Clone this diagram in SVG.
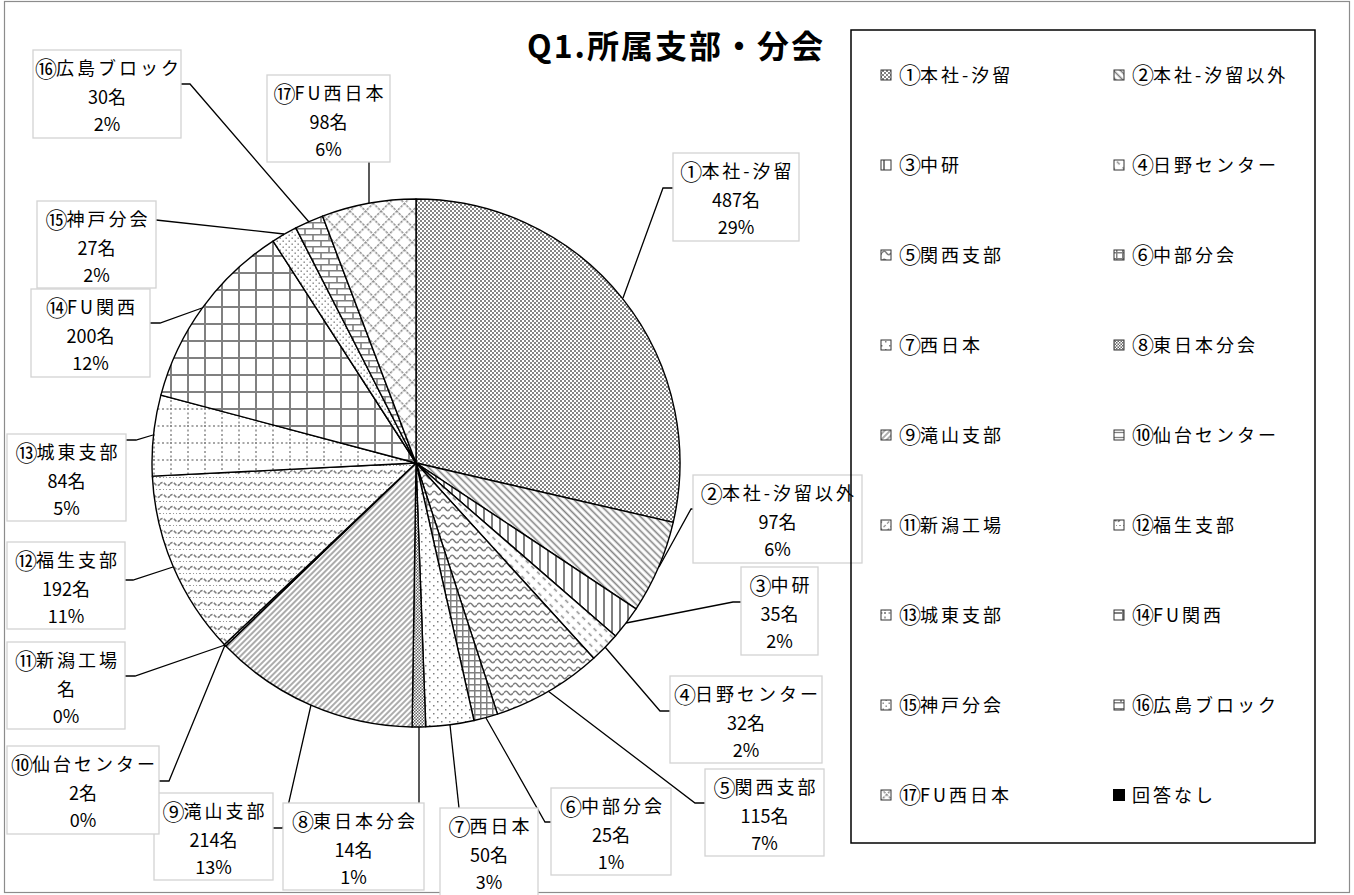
<svg xmlns="http://www.w3.org/2000/svg" width="1354" height="895" viewBox="0 0 1354 895">
<style>
text{font-family:"Noto Sans CJK JP","Noto Sans",sans-serif;fill:#000}
.lb{font-size:18px;text-anchor:middle}
.nm{letter-spacing:3px}
.cn{font-size:22px;letter-spacing:-1px}
.box{fill:#fff;stroke:#d3d3d3;stroke-width:1.3}
.sl{stroke:#000;stroke-width:1.4;stroke-linejoin:round}
.ld{fill:none;stroke:#000;stroke-width:1.3}
.lg{font-size:18px;letter-spacing:3px}
.mk{stroke:#333;stroke-width:1}
.title{font-size:32px;font-weight:bold;letter-spacing:2px}
</style>
<defs>
<pattern id="p1" width="4" height="4" patternUnits="userSpaceOnUse"><rect width="4" height="4" fill="#fff"/><rect width="2" height="2" fill="#858585"/><rect x="2" y="2" width="2" height="2" fill="#858585"/></pattern>
<pattern id="p2" width="5" height="5" patternUnits="userSpaceOnUse" patternTransform="rotate(-45)"><rect width="5" height="5" fill="#fff"/><line x1="2.5" y1="0" x2="2.5" y2="5" stroke="#808080" stroke-width="1.6"/></pattern>
<pattern id="p3" width="8" height="8" patternUnits="userSpaceOnUse"><rect width="8" height="8" fill="#fff"/><line x1="4" y1="0" x2="4" y2="8" stroke="#808080" stroke-width="2"/></pattern>
<pattern id="p4" width="7" height="8" patternUnits="userSpaceOnUse" patternTransform="rotate(-45)"><rect width="7" height="8" fill="#fff"/><line x1="3.5" y1="0" x2="3.5" y2="4" stroke="#8a8a8a" stroke-width="1.5"/></pattern>
<pattern id="p5" width="9" height="8" patternUnits="userSpaceOnUse"><rect width="9" height="8" fill="#fff"/><path d="M0 5 Q2.25 1.5 4.5 5 T9 5" fill="none" stroke="#808080" stroke-width="1.5"/></pattern>
<pattern id="p6" width="6" height="6" patternUnits="userSpaceOnUse"><rect width="6" height="6" fill="#fff"/><path d="M0 0.75H6M0.75 0V6" stroke="#808080" stroke-width="1.5"/></pattern>
<pattern id="p7" width="8" height="8" patternUnits="userSpaceOnUse"><rect width="8" height="8" fill="#fff"/><rect x="1" y="1" width="1.5" height="1.5" fill="#808080"/><rect x="5" y="5" width="1.5" height="1.5" fill="#808080"/></pattern>
<pattern id="p8" width="3" height="3" patternUnits="userSpaceOnUse"><rect width="3" height="3" fill="#fff"/><rect width="1.5" height="1.5" fill="#666"/><rect x="1.5" y="1.5" width="1.5" height="1.5" fill="#666"/></pattern>
<pattern id="p9" width="4" height="4" patternUnits="userSpaceOnUse" patternTransform="rotate(45)"><rect width="4" height="4" fill="#fff"/><line x1="2" y1="0" x2="2" y2="4" stroke="#808080" stroke-width="1.3"/></pattern>
<pattern id="p10" width="5" height="5" patternUnits="userSpaceOnUse"><rect width="5" height="5" fill="#fff"/><line x1="0" y1="2.5" x2="5" y2="2.5" stroke="#808080" stroke-width="1.3"/></pattern>
<pattern id="p11" width="5" height="5" patternUnits="userSpaceOnUse" patternTransform="rotate(45)"><rect width="5" height="5" fill="#fff"/><line x1="2.5" y1="0" x2="2.5" y2="3" stroke="#808080" stroke-width="1.2"/></pattern>
<pattern id="p12" width="10" height="12" patternUnits="userSpaceOnUse"><rect width="10" height="12" fill="#fff"/><path d="M0 4 Q2.5 1 5 4 T10 4" fill="none" stroke="#808080" stroke-width="1.6" stroke-dasharray="3 1.5"/><line x1="0" y1="9.5" x2="10" y2="9.5" stroke="#9a9a9a" stroke-width="1.2" stroke-dasharray="1 2"/></pattern>
<pattern id="p13" width="17" height="17" patternUnits="userSpaceOnUse"><rect width="17" height="17" fill="#fff"/><path d="M0 1H17M1 0V17" stroke="#8a8a8a" stroke-width="1.5" stroke-dasharray="2 2.5"/></pattern>
<pattern id="p14" width="17" height="17" patternUnits="userSpaceOnUse"><rect width="17" height="17" fill="#fff"/><path d="M0 1H17M1 0V17" stroke="#808080" stroke-width="2"/></pattern>
<pattern id="p15" width="6" height="6" patternUnits="userSpaceOnUse"><rect width="6" height="6" fill="#fff"/><rect x="0.5" y="0.5" width="1.4" height="1.4" fill="#808080"/><rect x="3.5" y="3.5" width="1.4" height="1.4" fill="#808080"/></pattern>
<pattern id="p16" width="16" height="12" patternUnits="userSpaceOnUse"><rect width="16" height="12" fill="#fff"/><path d="M0 0.75H16M0 6.75H16M1 0V6.75M9 6.75V12" stroke="#808080" stroke-width="1.6"/></pattern>
<pattern id="p17" width="11" height="11" patternUnits="userSpaceOnUse" patternTransform="rotate(45)"><rect width="11" height="11" fill="#fff"/><path d="M0 0.75H11M0.75 0V11" stroke="#8a8a8a" stroke-width="1.5" stroke-dasharray="2.5 1.2"/></pattern>
</defs>
<rect x="4.5" y="1.5" width="1345" height="891" fill="#fff" stroke="#8c8c8c" stroke-width="1.2"/>

<g id="pie">
<path class="sl" fill="url(#p1)" d="M416,463 L416,199 A264,264 0 0 1 673.22,522.42 Z"/>
<path class="sl" fill="url(#p2)" d="M416,463 L673.22,522.42 A264,264 0 0 1 636.08,608.81 Z"/>
<path class="sl" fill="url(#p3)" d="M416,463 L636.08,608.81 A264,264 0 0 1 615.47,635.94 Z"/>
<path class="sl" fill="url(#p4)" d="M416,463 L615.47,635.94 A264,264 0 0 1 593.68,658.26 Z"/>
<path class="sl" fill="url(#p5)" d="M416,463 L593.68,658.26 A264,264 0 0 1 497.49,714.11 Z"/>
<path class="sl" fill="url(#p6)" d="M416,463 L497.49,714.11 A264,264 0 0 1 474.00,720.55 Z"/>
<path class="sl" fill="url(#p7)" d="M416,463 L474.00,720.55 A264,264 0 0 1 425.74,726.82 Z"/>
<path class="sl" fill="url(#p8)" d="M416,463 L425.74,726.82 A264,264 0 0 1 412.10,726.97 Z"/>
<path class="sl" fill="url(#p9)" d="M416,463 L412.10,726.97 A264,264 0 0 1 225.77,646.05 Z"/>
<path class="sl" fill="url(#p10)" d="M416,463 L225.77,646.05 A264,264 0 0 1 224.36,644.59 Z"/>
<path class="sl" fill="url(#p12)" d="M416,463 L224.36,644.59 A264,264 0 0 1 152.33,476.15 Z"/>
<path class="sl" fill="url(#p13)" d="M416,463 L152.33,476.15 A264,264 0 0 1 160.89,395.07 Z"/>
<path class="sl" fill="url(#p14)" d="M416,463 L160.89,395.07 A264,264 0 0 1 273.05,241.05 Z"/>
<path class="sl" fill="url(#p15)" d="M416,463 L273.05,241.05 A264,264 0 0 1 295.83,227.93 Z"/>
<path class="sl" fill="url(#p16)" d="M416,463 L295.83,227.93 A264,264 0 0 1 322.56,216.09 Z"/>
<path class="sl" fill="url(#p17)" d="M416,463 L322.56,216.09 A264,264 0 0 1 416,199 Z"/>
</g>

<g id="connectors">
<polyline class="ld" points="673,188 663,188 623,298"/>
<polyline class="ld" points="693,509 691,509 659,567"/>
<polyline class="ld" points="741,602 733,602 626,623"/>
<polyline class="ld" points="670,711 660,711 605,647"/>
<polyline class="ld" points="705,803 695,803 548,691"/>
<polyline class="ld" points="551,822 545,822 486,718"/>
<polyline class="ld" points="459,808 450,725"/>
<polyline class="ld" points="419,803 419,727"/>
<polyline class="ld" points="273,828 283,828 311,705"/>
<polyline class="ld" points="159,781 169,781 225,645"/>
<polyline class="ld" points="125,676 135,676 225,645"/>
<polyline class="ld" points="125,580 133,580 173,567"/>
<polyline class="ld" points="126,440 136,440 153,435"/>
<polyline class="ld" points="150,323 160,323 202,308"/>
<polyline class="ld" points="156,220 284,234"/>
<polyline class="ld" points="181,84 190,84 309,222"/>
<polyline class="ld" points="369,162 369,203"/>
</g>

<g id="label1"><rect class="box" x="673" y="153" width="126" height="88"/><text class="lb nm" x="737.5" y="178"><tspan class="cn" dy="1.5">①</tspan><tspan dy="-1.5">本社-汐留</tspan></text><text class="lb" x="736" y="207">487名</text><text class="lb" x="736" y="234">29%</text></g>
<g id="label2"><rect class="box" x="693" y="475" width="169" height="88"/><text class="lb nm" x="779" y="500"><tspan class="cn" dy="1.5">②</tspan><tspan dy="-1.5">本社-汐留以外</tspan></text><text class="lb" x="777.5" y="529">97名</text><text class="lb" x="777.5" y="556">6%</text></g>
<g id="label3"><rect class="box" x="741" y="567" width="77" height="88"/><text class="lb nm" x="781" y="592"><tspan class="cn" dy="1.5">③</tspan><tspan dy="-1.5">中研</tspan></text><text class="lb" x="779.5" y="621">35名</text><text class="lb" x="779.5" y="648">2%</text></g>
<g id="label4"><rect class="box" x="670" y="676" width="152" height="87"/><text class="lb nm" x="747.5" y="701"><tspan class="cn" dy="1.5">④</tspan><tspan dy="-1.5">日野センター</tspan></text><text class="lb" x="746" y="730">32名</text><text class="lb" x="746" y="757">2%</text></g>
<g id="label5"><rect class="box" x="705" y="769" width="119" height="87"/><text class="lb nm" x="766" y="794"><tspan class="cn" dy="1.5">⑤</tspan><tspan dy="-1.5">関西支部</tspan></text><text class="lb" x="764.5" y="823">115名</text><text class="lb" x="764.5" y="850">7%</text></g>
<g id="label6"><rect class="box" x="551" y="788" width="120" height="87"/><text class="lb nm" x="612.5" y="813"><tspan class="cn" dy="1.5">⑥</tspan><tspan dy="-1.5">中部分会</tspan></text><text class="lb" x="611" y="842">25名</text><text class="lb" x="611" y="869">1%</text></g>
<g id="label7"><rect class="box" x="440" y="808" width="98" height="92"/><text class="lb nm" x="490.5" y="833"><tspan class="cn" dy="1.5">⑦</tspan><tspan dy="-1.5">西日本</tspan></text><text class="lb" x="489" y="862">50名</text><text class="lb" x="489" y="889">3%</text></g>
<g id="label8"><rect class="box" x="283" y="803" width="141" height="87"/><text class="lb nm" x="355" y="828"><tspan class="cn" dy="1.5">⑧</tspan><tspan dy="-1.5">東日本分会</tspan></text><text class="lb" x="353.5" y="857">14名</text><text class="lb" x="353.5" y="884">1%</text></g>
<g id="label9"><rect class="box" x="154" y="793" width="119" height="87"/><text class="lb nm" x="215" y="818"><tspan class="cn" dy="1.5">⑨</tspan><tspan dy="-1.5">滝山支部</tspan></text><text class="lb" x="213.5" y="847">214名</text><text class="lb" x="213.5" y="874">13%</text></g>
<g id="label10"><rect class="box" x="7" y="746" width="152" height="88"/><text class="lb nm" x="84.5" y="771"><tspan class="cn" dy="1.5">⑩</tspan><tspan dy="-1.5">仙台センター</tspan></text><text class="lb" x="83" y="800">2名</text><text class="lb" x="83" y="827">0%</text></g>
<g id="label11"><rect class="box" x="7" y="642" width="118" height="87"/><text class="lb nm" x="67.5" y="667"><tspan class="cn" dy="1.5">⑪</tspan><tspan dy="-1.5">新潟工場</tspan></text><text class="lb" x="66" y="696">名</text><text class="lb" x="66" y="723">0%</text></g>
<g id="label12"><rect class="box" x="7" y="542" width="118" height="87"/><text class="lb nm" x="67.5" y="567"><tspan class="cn" dy="1.5">⑫</tspan><tspan dy="-1.5">福生支部</tspan></text><text class="lb" x="66" y="596">192名</text><text class="lb" x="66" y="623">11%</text></g>
<g id="label13"><rect class="box" x="7" y="434" width="119" height="87"/><text class="lb nm" x="68" y="459"><tspan class="cn" dy="1.5">⑬</tspan><tspan dy="-1.5">城東支部</tspan></text><text class="lb" x="66.5" y="488">84名</text><text class="lb" x="66.5" y="515">5%</text></g>
<g id="label14"><rect class="box" x="31" y="289" width="119" height="88"/><text class="lb nm" x="92" y="314"><tspan class="cn" dy="1.5">⑭</tspan><tspan dy="-1.5">FU関西</tspan></text><text class="lb" x="90.5" y="343">200名</text><text class="lb" x="90.5" y="370">12%</text></g>
<g id="label15"><rect class="box" x="37" y="201" width="119" height="87"/><text class="lb nm" x="98" y="226"><tspan class="cn" dy="1.5">⑮</tspan><tspan dy="-1.5">神戸分会</tspan></text><text class="lb" x="96.5" y="255">27名</text><text class="lb" x="96.5" y="282">2%</text></g>
<g id="label16"><rect class="box" x="33" y="50" width="148" height="88"/><text class="lb nm" x="108.5" y="75"><tspan class="cn" dy="1.5">⑯</tspan><tspan dy="-1.5">広島ブロック</tspan></text><text class="lb" x="107" y="104">30名</text><text class="lb" x="107" y="131">2%</text></g>
<g id="label17"><rect class="box" x="267" y="75" width="123" height="87"/><text class="lb nm" x="330" y="100"><tspan class="cn" dy="1.5">⑰</tspan><tspan dy="-1.5">FU西日本</tspan></text><text class="lb" x="328.5" y="129">98名</text><text class="lb" x="328.5" y="156">6%</text></g>

<g id="legend">
<rect x="851" y="30" width="464" height="813" fill="none" stroke="#000" stroke-width="1.5"/>
<rect class="mk" x="881" y="70" width="10" height="10" fill="url(#p1)"/><text class="lg" x="899" y="81.5"><tspan class="cn" dy="1.5">①</tspan><tspan dy="-1.5">本社-汐留</tspan></text>
<rect class="mk" x="1114" y="70" width="10" height="10" fill="url(#p2)"/><text class="lg" x="1132" y="81.5"><tspan class="cn" dy="1.5">②</tspan><tspan dy="-1.5">本社-汐留以外</tspan></text>
<rect class="mk" x="881" y="160" width="10" height="10" fill="url(#p3)"/><text class="lg" x="899" y="171.5"><tspan class="cn" dy="1.5">③</tspan><tspan dy="-1.5">中研</tspan></text>
<rect class="mk" x="1114" y="160" width="10" height="10" fill="url(#p4)"/><text class="lg" x="1132" y="171.5"><tspan class="cn" dy="1.5">④</tspan><tspan dy="-1.5">日野センター</tspan></text>
<rect class="mk" x="881" y="250" width="10" height="10" fill="url(#p5)"/><text class="lg" x="899" y="261.5"><tspan class="cn" dy="1.5">⑤</tspan><tspan dy="-1.5">関西支部</tspan></text>
<rect class="mk" x="1114" y="250" width="10" height="10" fill="url(#p6)"/><text class="lg" x="1132" y="261.5"><tspan class="cn" dy="1.5">⑥</tspan><tspan dy="-1.5">中部分会</tspan></text>
<rect class="mk" x="881" y="340" width="10" height="10" fill="url(#p7)"/><text class="lg" x="899" y="351.5"><tspan class="cn" dy="1.5">⑦</tspan><tspan dy="-1.5">西日本</tspan></text>
<rect class="mk" x="1114" y="340" width="10" height="10" fill="url(#p8)"/><text class="lg" x="1132" y="351.5"><tspan class="cn" dy="1.5">⑧</tspan><tspan dy="-1.5">東日本分会</tspan></text>
<rect class="mk" x="881" y="430" width="10" height="10" fill="url(#p9)"/><text class="lg" x="899" y="441.5"><tspan class="cn" dy="1.5">⑨</tspan><tspan dy="-1.5">滝山支部</tspan></text>
<rect class="mk" x="1114" y="430" width="10" height="10" fill="url(#p10)"/><text class="lg" x="1132" y="441.5"><tspan class="cn" dy="1.5">⑩</tspan><tspan dy="-1.5">仙台センター</tspan></text>
<rect class="mk" x="881" y="520" width="10" height="10" fill="url(#p11)"/><text class="lg" x="899" y="531.5"><tspan class="cn" dy="1.5">⑪</tspan><tspan dy="-1.5">新潟工場</tspan></text>
<rect class="mk" x="1114" y="520" width="10" height="10" fill="url(#p12)"/><text class="lg" x="1132" y="531.5"><tspan class="cn" dy="1.5">⑫</tspan><tspan dy="-1.5">福生支部</tspan></text>
<rect class="mk" x="881" y="610" width="10" height="10" fill="url(#p13)"/><text class="lg" x="899" y="621.5"><tspan class="cn" dy="1.5">⑬</tspan><tspan dy="-1.5">城東支部</tspan></text>
<rect class="mk" x="1114" y="610" width="10" height="10" fill="url(#p14)"/><text class="lg" x="1132" y="621.5"><tspan class="cn" dy="1.5">⑭</tspan><tspan dy="-1.5">FU関西</tspan></text>
<rect class="mk" x="881" y="700" width="10" height="10" fill="url(#p15)"/><text class="lg" x="899" y="711.5"><tspan class="cn" dy="1.5">⑮</tspan><tspan dy="-1.5">神戸分会</tspan></text>
<rect class="mk" x="1114" y="700" width="10" height="10" fill="url(#p16)"/><text class="lg" x="1132" y="711.5"><tspan class="cn" dy="1.5">⑯</tspan><tspan dy="-1.5">広島ブロック</tspan></text>
<rect class="mk" x="881" y="790" width="10" height="10" fill="url(#p17)"/><text class="lg" x="899" y="801.5"><tspan class="cn" dy="1.5">⑰</tspan><tspan dy="-1.5">FU西日本</tspan></text>
<rect x="1113" y="789" width="12" height="12" fill="#000"/><text class="lg" x="1132" y="801.5">回答なし</text>
</g>

<g id="title"><text class="title" x="527" y="58">Q1.所属支部・分会</text></g>
</svg>
